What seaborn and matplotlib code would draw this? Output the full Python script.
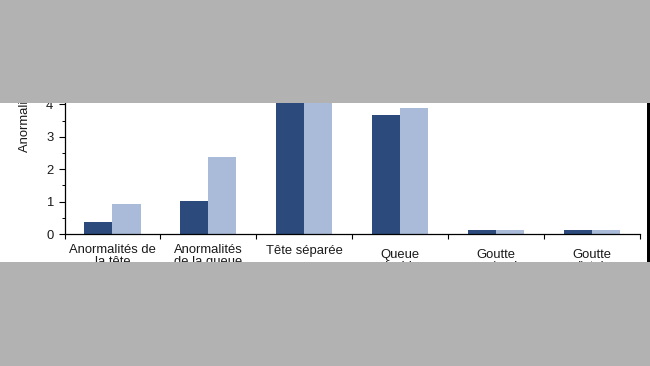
import numpy as np
import pandas as pd
import matplotlib
matplotlib.use("Agg")
import matplotlib.pyplot as plt
import matplotlib.transforms as mtransforms
from matplotlib.patches import Rectangle
from matplotlib.ticker import MultipleLocator
import seaborn as sns

# ---- data ----
categories = ["Anormalités de\nla tête", "Anormalités\nde la queue", "Tête séparée",
              "Queue\ndouble", "Goutte\nproximale", "Goutte\ndistale"]
series_names = ["Série 1", "Série 2"]
values_s1 = [0.38, 1.02, 4.8, 3.67, 0.12, 0.12]
values_s2 = [0.93, 2.37, 5.1, 3.88, 0.12, 0.12]
y_ticks = [0, 1, 2, 3, 4, 5, 6]
y_label = "Anormalités (%)"

df = pd.DataFrame({
    "cat": categories * 2,
    "serie": [series_names[0]] * len(categories) + [series_names[1]] * len(categories),
    "val": values_s1 + values_s2,
})

sns.set_theme(style="white")
plt.rcParams["font.family"] = ["Liberation Sans", "DejaVu Sans"]

W, H, DPI = 650, 366, 100
fig = plt.figure(figsize=(W / DPI, H / DPI), dpi=DPI)
fig.patch.set_facecolor("white")

px_per_unit = 32.4
x0, x1 = 64.5, 640
ax = fig.add_axes([x0 / W, 1 - 234 / H, (x1 - x0) / W, 6 * px_per_unit / H])
ax.set_facecolor("white")

sns.barplot(data=df, x="cat", y="val", hue="serie", order=categories,
            hue_order=series_names, palette=["#2c4a7c", "#a9bbd8"],
            saturation=1, width=0.585, gap=0, edgecolor="none", linewidth=0,
            legend=False, ax=ax)

ax.set_xlim(-0.5, len(categories) - 0.5)
ax.set_ylim(0, 6)
ax.set_xlabel("")
ax.set_ylabel("")

for s in ["top", "right"]:
    ax.spines[s].set_visible(False)
for s in ["left", "bottom"]:
    ax.spines[s].set_color("black")
    ax.spines[s].set_linewidth(0.9)

# x ticks at category boundaries, no labels
ax.set_xticks(np.arange(-0.5, len(categories), 1.0))
ax.set_xticklabels([])
ax.tick_params(axis="x", which="major", direction="out", length=3.5, width=0.8,
               color="black", bottom=True)

# y ticks
ax.set_yticks(y_ticks)
ax.set_yticklabels([str(t) for t in y_ticks])
ax.yaxis.set_minor_locator(MultipleLocator(0.5))
ax.tick_params(axis="y", which="major", direction="out", length=4.5, width=0.8,
               color="black", left=True, pad=3.5, labelsize=9.4, labelcolor="#1a1a1a")
ax.tick_params(axis="y", which="minor", direction="out", length=2, width=0.7,
               color="black", left=True)

# category labels
pads = [7.5, 7.5, 8.0, 10.5, 10.5, 10.5]
base = mtransforms.blended_transform_factory(ax.transData, ax.transAxes)
for i, (lab, p) in enumerate(zip(categories, pads)):
    tr = mtransforms.offset_copy(base, fig=fig, y=-p, units="points")
    ax.text(i, 0, lab, transform=tr, ha="center", va="top", multialignment="center",
            fontsize=9.4, color="#1a1a1a", linespacing=1.0)

# y label
ax.set_ylabel(y_label, fontsize=9.4, color="#1a1a1a")
ax.yaxis.label.set_ha("left")
ax.yaxis.set_label_coords((31 - x0) / (x1 - x0), (234 - 152) / (6 * px_per_unit))

# grey masks and frame border
gray = "#b2b2b2"
fig.add_artist(Rectangle((0, 1 - 103 / H), 1, 103 / H, transform=fig.transFigure,
                         facecolor=gray, edgecolor="none", zorder=20))
fig.add_artist(Rectangle((0, 0), 1, (H - 262) / H, transform=fig.transFigure,
                         facecolor=gray, edgecolor="none", zorder=20))
fig.add_artist(Rectangle((647 / W, (H - 262) / H), 3 / W, (262 - 103) / H,
                         transform=fig.transFigure, facecolor="black",
                         edgecolor="none", zorder=21))

fig.savefig("out.png", dpi=DPI, facecolor=fig.get_facecolor())
